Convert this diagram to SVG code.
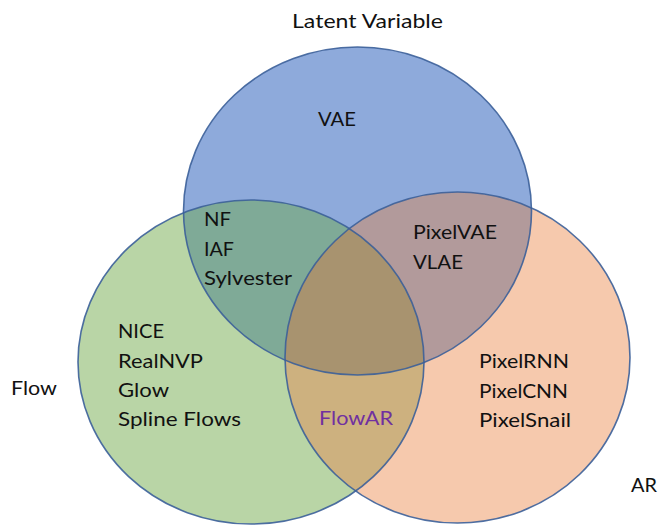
<svg xmlns="http://www.w3.org/2000/svg" width="659" height="525" viewBox="0 0 659 525">
  <style>
    .lbl { font-family: Lato, "Open Sans", "Liberation Sans", sans-serif; font-size: 20px; fill: #111111; }
    .ring { fill: none; stroke: #3b5f99; stroke-width: 1.6; stroke-opacity: 0.9; }
  </style>
  <defs>
    <clipPath id="clipBlue"><ellipse cx="357.5" cy="211" rx="174" ry="164"/></clipPath>
    <clipPath id="clipGreen"><ellipse cx="251" cy="362" rx="173" ry="162"/></clipPath>
    <clipPath id="clipOrange"><ellipse cx="457.5" cy="357.5" rx="172.5" ry="165.5"/></clipPath>
  </defs>
  <rect width="659" height="525" fill="#ffffff"/>

  <!-- set fills -->
  <g id="set-latent">
    <ellipse cx="357.5" cy="211" rx="174" ry="164" fill="#8eaadb"/>
  </g>
  <g id="set-flow">
    <ellipse cx="251" cy="362" rx="173" ry="162" fill="#b9d5a6"/>
  </g>
  <g id="set-ar">
    <ellipse cx="457.5" cy="357.5" rx="172.5" ry="165.5" fill="#f6c9ad"/>
  </g>

  <!-- pairwise and triple overlaps -->
  <g id="overlaps">
    <ellipse cx="251" cy="362" rx="173" ry="162" fill="#7faa97" clip-path="url(#clipBlue)"/>
    <ellipse cx="457.5" cy="357.5" rx="172.5" ry="165.5" fill="#b29a9b" clip-path="url(#clipBlue)"/>
    <ellipse cx="457.5" cy="357.5" rx="172.5" ry="165.5" fill="#cdb17f" clip-path="url(#clipGreen)"/>
    <g clip-path="url(#clipBlue)">
      <ellipse cx="457.5" cy="357.5" rx="172.5" ry="165.5" fill="#a8936f" clip-path="url(#clipGreen)"/>
    </g>
  </g>

  <!-- outlines -->
  <g id="outlines">
    <ellipse class="ring" cx="357.5" cy="211" rx="174" ry="164"/>
    <ellipse class="ring" cx="251" cy="362" rx="173" ry="162"/>
    <ellipse class="ring" cx="457.5" cy="357.5" rx="172.5" ry="165.5"/>
  </g>

  <!-- set titles -->
  <g id="title-latent"><text class="lbl" x="292" y="28" textLength="151" lengthAdjust="spacingAndGlyphs">Latent Variable</text></g>
  <g id="title-flow"><text class="lbl" x="11" y="395" textLength="46" lengthAdjust="spacingAndGlyphs">Flow</text></g>
  <g id="title-ar"><text class="lbl" x="631" y="492" textLength="26" lengthAdjust="spacingAndGlyphs">AR</text></g>

  <!-- region members -->
  <g id="region-latent">
    <text class="lbl" x="318" y="126" textLength="38" lengthAdjust="spacingAndGlyphs">VAE</text>
  </g>
  <g id="region-latent-flow">
    <text class="lbl" x="204" y="226" textLength="27" lengthAdjust="spacingAndGlyphs">NF</text>
    <text class="lbl" x="204" y="256" textLength="30" lengthAdjust="spacingAndGlyphs">IAF</text>
    <text class="lbl" x="204" y="285" textLength="88" lengthAdjust="spacingAndGlyphs">Sylvester</text>
  </g>
  <g id="region-flow">
    <text class="lbl" x="118" y="338" textLength="46" lengthAdjust="spacingAndGlyphs">NICE</text>
    <text class="lbl" x="118" y="368" textLength="85" lengthAdjust="spacingAndGlyphs">RealNVP</text>
    <text class="lbl" x="118" y="397" textLength="51" lengthAdjust="spacingAndGlyphs">Glow</text>
    <text class="lbl" x="118" y="426" textLength="123" lengthAdjust="spacingAndGlyphs">Spline Flows</text>
  </g>
  <g id="region-latent-ar">
    <text class="lbl" x="413" y="239" textLength="84" lengthAdjust="spacingAndGlyphs">PixelVAE</text>
    <text class="lbl" x="413" y="269" textLength="50" lengthAdjust="spacingAndGlyphs">VLAE</text>
  </g>
  <g id="region-ar">
    <text class="lbl" x="479" y="368" textLength="90" lengthAdjust="spacingAndGlyphs">PixelRNN</text>
    <text class="lbl" x="479" y="398" textLength="89" lengthAdjust="spacingAndGlyphs">PixelCNN</text>
    <text class="lbl" x="479" y="427" textLength="92" lengthAdjust="spacingAndGlyphs">PixelSnail</text>
  </g>
  <g id="region-flow-ar">
    <text class="lbl" x="319" y="425" textLength="74" lengthAdjust="spacingAndGlyphs" style="fill:#7030a0">FlowAR</text>
  </g>
</svg>
